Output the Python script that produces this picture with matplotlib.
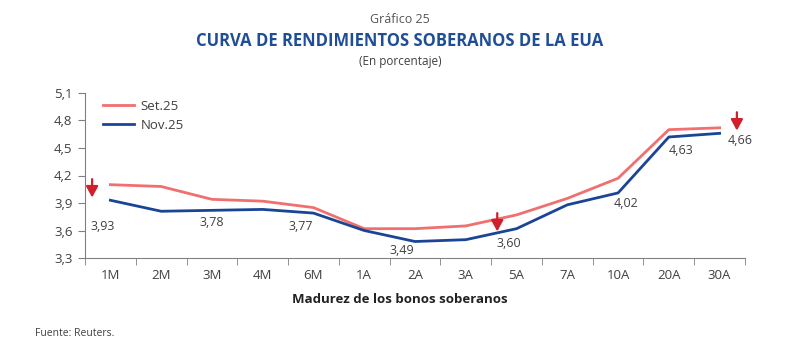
import matplotlib
matplotlib.use("Agg")
import matplotlib.pyplot as plt
import numpy as np

# ---- data -------------------------------------------------------
maturities = ["1M", "2M", "3M", "4M", "6M", "1A", "2A", "3A", "5A", "7A", "10A", "20A", "30A"]
set25 = [4.10, 4.08, 3.94, 3.92, 3.85, 3.62, 3.62, 3.65, 3.77, 3.95, 4.17, 4.70, 4.72]
nov25 = [3.93, 3.81, 3.82, 3.83, 3.79, 3.60, 3.48, 3.50, 3.62, 3.88, 4.01, 4.62, 4.66]
yticks = [3.3, 3.6, 3.9, 4.2, 4.5, 4.8, 5.1]

# value labels: (text, x index, y)
point_labels = [("3,93", -0.15, 3.64), ("3,78", 2.0, 3.69), ("3,77", 3.75, 3.64),
                ("3,49", 5.75, 3.38), ("3,60", 7.85, 3.46), ("4,02", 10.15, 3.90),
                ("4,63", 11.25, 4.47), ("4,66", 12.4, 4.58)]
# down arrows: (x index, y top, y bottom)
arrows = [(-0.36, 4.16, 3.96), (7.62, 3.79, 3.59), (12.34, 4.89, 4.69)]

RED = "#F07070"
BLUE = "#1A4596"
TXT = "#404040"
plt.rcParams["font.family"] = ["Open Sans", "DejaVu Sans"]

fig = plt.figure(figsize=(8, 3.6), dpi=100)
ax = fig.add_axes([0.10625, 0.2833, 0.825, 0.4584])

x = np.arange(len(maturities))
ax.plot(x, set25, color=RED, lw=2, solid_joinstyle="round", label="Set.25")
ax.plot(x, nov25, color=BLUE, lw=2, solid_joinstyle="round", label="Nov.25")

for txt, px, py in point_labels:
    ax.text(px, py, txt, ha="center", va="center", fontsize=9, color=TXT)

for ax_x, y0, y1 in arrows:
    ax.annotate("", xy=(ax_x, y1), xytext=(ax_x, y0),
                arrowprops=dict(arrowstyle="-|>,head_width=0.3,head_length=0.55",
                                mutation_scale=12, shrinkA=0, shrinkB=0,
                                color="#D0202C", lw=1.6))

ax.set_xlim(-0.5, 12.5)
ax.set_ylim(3.3, 5.1)
ax.set_yticks(yticks)
ax.set_yticklabels([f"{v:.1f}".replace(".", ",") for v in yticks])
ax.set_xticks(x)
ax.set_xticklabels(maturities)
ax.set_xticks(np.arange(-0.5, 13, 1), minor=True)
ax.tick_params(axis="x", which="major", length=0, pad=8, labelsize=9.5, colors=TXT)
ax.tick_params(axis="x", which="minor", length=5, color="#808080", direction="out")
ax.tick_params(axis="y", length=5, color="#808080", labelsize=9.5, colors=TXT, pad=4)

for s in ["top", "right"]:
    ax.spines[s].set_visible(False)
for s in ["left", "bottom"]:
    ax.spines[s].set_color("#808080")
    ax.spines[s].set_linewidth(0.8)

leg = ax.legend(loc="upper left", bbox_to_anchor=(0.01, 1.03), frameon=False,
                fontsize=9.5, handlelength=2.3, handletextpad=0.5, labelspacing=0.45)
for t in leg.get_texts():
    t.set_color(TXT)

fig.text(0.5, 0.945, "Gráfico 25", ha="center", va="center", fontsize=9, color="#555555")
fig.text(0.5, 0.885, "CURVA DE RENDIMIENTOS SOBERANOS DE LA EUA", ha="center", va="center",
         fontsize=12, fontweight="bold", color="#1F4E96")
fig.text(0.5, 0.828, "(En porcentaje)", ha="center", va="center", fontsize=8.5, color=TXT)
fig.text(0.5, 0.167, "Madurez de los bonos soberanos", ha="center", va="center",
         fontsize=9.5, fontweight="bold", color="#222222")
fig.text(0.044, 0.075, "Fuente: Reuters.", ha="left", va="center", fontsize=7.5, color=TXT)

fig.savefig("out.png", dpi=100, facecolor="white")
